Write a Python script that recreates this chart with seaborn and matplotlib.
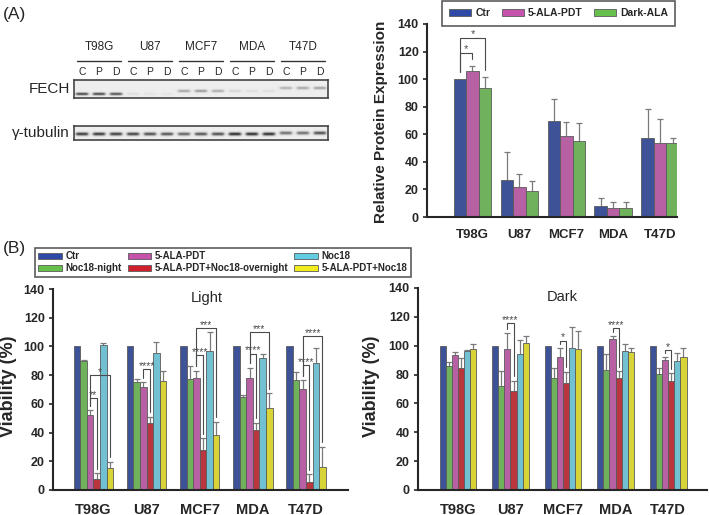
import numpy as np
import pandas as pd
import seaborn as sns
import matplotlib.pyplot as plt
from matplotlib.patches import Patch

W, H = 709, 515

cell_lines = ['T98G', 'U87', 'MCF7', 'MDA', 'T47D']

# (A) FECH western blot quantification
a_groups = ['Ctr', '5-ALA-PDT', 'Dark-ALA']
a_colors = ['#2f4aa6', '#c552ab', '#68c04c']
a_ctr = [100, 27, 70, 8.2, 57.5]
a_ctr_sd = [0, 20, 15.8, 5.3, 21]
a_pdt = [106, 22, 58.7, 6.3, 53.4]
a_pdt_sd = [3.6, 9.2, 10.2, 4.7, 17.4]
a_dark = [93.3, 19, 55.3, 6.3, 53.9]
a_dark_sd = [8, 7.3, 13.1, 4.7, 3.1]
# (cell line, group i, group j, bracket top, label)
a_sig = [(0, 0, 1, 119, '*'), (0, 0, 2, 130, '*')]

# blot band darkness per lane (C, P, D for each cell line)
fech_dark = [0.8, 0.8, 0.75, 0.07, 0.05, 0.05, 0.35, 0.4, 0.32, 0.12, 0.07, 0.07, 0.3, 0.35, 0.38]
fech_band_y = [94, 94, 91, 91, 88]
tub_dark = [0.85, 0.85, 0.82, 0.8, 0.75, 0.72, 0.65, 0.72, 0.75, 0.92, 0.9, 0.9, 0.6, 0.6, 0.75]
tub_band_y = [134, 134, 134, 134, 133]
lanes = ['C', 'P', 'D']

# (B) viability
b_groups = ['Ctr', 'Noc18-night', '5-ALA-PDT', '5-ALA-PDT+Noc18-overnight', 'Noc18', '5-ALA-PDT+Noc18']
b_colors = ['#2f4aa6', '#68c04c', '#c552ab', '#d0202c', '#62cce2', '#f3ec1c']

light_ctr = [100, 100, 100, 100, 100]
light_ctr_sd = [0, 0, 0, 0, 0]
light_night = [90, 75.4, 77.3, 64.5, 76.6]
light_night_sd = [0.5, 1.9, 9.3, 1.6, 5.4]
light_pdt = [52.2, 71.5, 78.2, 77.8, 70.1]
light_pdt_sd = [3.5, 3.5, 4.9, 7.4, 6.5]
light_over = [7.4, 46.4, 27.9, 41.5, 5.3]
light_over_sd = [4.2, 4.6, 8.1, 5.5, 5.8]
light_noc = [101, 95.2, 97, 92.1, 88.2]
light_noc_sd = [1.6, 7.6, 12.8, 2.3, 10.5]
light_combo = [15.1, 75.9, 38.3, 57.3, 15.8]
light_combo_sd = [4.6, 7.2, 9.3, 10, 14.4]
light_sig = [(0, 2, 3, 64, '**'), (0, 2, 5, 80, '*'), (1, 2, 3, 84, '****'),
             (2, 2, 3, 94, '****'), (2, 2, 5, 112.5, '***'),
             (3, 2, 3, 95, '****'), (3, 2, 5, 110, '***'),
             (4, 2, 3, 87, '****'), (4, 2, 5, 107, '****')]

dark_ctr = [100, 100, 100, 100, 100]
dark_ctr_sd = [0, 0, 0, 0, 0]
dark_night = [86.2, 72.3, 77.4, 83.2, 80.4]
dark_night_sd = [2.3, 10.2, 7.4, 11, 3.9]
dark_pdt = [93.5, 97.7, 92, 104.4, 90.1]
dark_pdt_sd = [2.4, 10.9, 6.2, 2.3, 1.9]
dark_over = [84.8, 68.6, 73.9, 77.8, 75.8]
dark_over_sd = [6.9, 7.2, 8.1, 4.7, 5.1]
dark_noc = [96.6, 94.3, 98.2, 96.3, 89.6]
dark_noc_sd = [0.5, 9.7, 15, 4.7, 5.5]
dark_combo = [97.7, 101.7, 97.7, 95.4, 92.4]
dark_combo_sd = [3.5, 5, 12.5, 2.8, 6.2]
dark_sig = [(1, 2, 3, 115.5, '****'), (2, 2, 3, 103.5, '*'),
            (3, 2, 3, 112, '****'), (4, 2, 3, 97, '*')]

sns.set_style('ticks')
plt.rcParams['font.family'] = ['Liberation Sans', 'DejaVu Sans']

EDGE = '#5a5a5a'
ERR = '#7a7a7a'
SIGC = '#4a4a4a'

fig = plt.figure(figsize=(W / 100, H / 100), dpi=100)


def px_axes(x0, y0, x1, y1):
    return fig.add_axes([x0 / W, 1 - y1 / H, (x1 - x0) / W, (y1 - y0) / H])


def grouped_bars(ax, groups, colors, means, sds, width):
    df = pd.DataFrame({
        'line': np.tile(cell_lines, len(groups)),
        'group': np.repeat(groups, len(cell_lines)),
        'value': np.concatenate(means),
    })
    sns.barplot(data=df, x='line', y='value', hue='group', order=cell_lines,
                hue_order=groups, palette=colors, width=width, errorbar=None,
                edgecolor=EDGE, linewidth=0.6, legend=False, ax=ax, zorder=2)
    centers, tops = [], []
    for cont, sd in zip(ax.containers, sds):
        x = np.array([p.get_x() + p.get_width() / 2 for p in cont])
        h = np.array([p.get_height() for p in cont])
        sd = np.asarray(sd, dtype=float)
        m = sd > 0
        if m.any():
            _, caps, _ = ax.errorbar(x[m], h[m], yerr=[np.zeros(m.sum()), sd[m]],
                                     fmt='none', ecolor=ERR, elinewidth=0.9,
                                     capsize=2.5, capthick=0.9, zorder=1)
            caps[0].set_visible(False)
        centers.append(x)
        tops.append(h + sd)
    return centers, tops


def brackets(ax, centers, tops, sig, gap, fs):
    for cat, i, j, top, label in sig:
        xi, xj = centers[i][cat], centers[j][cat]
        yi, yj = tops[i][cat] + gap, tops[j][cat] + gap
        ax.plot([xi, xi, xj, xj], [yi, top, top, yj], color=SIGC, lw=0.8, zorder=3)
        ax.text((xi + xj) / 2, top + 0.3, label, ha='center', va='baseline',
                fontsize=fs, color=SIGC)


def style(ax, xlim, xfs, ypad):
    ax.set_xlim(*xlim)
    ax.set_ylim(0, 140)
    ax.set_yticks(range(0, 141, 20))
    sns.despine(ax=ax)
    for s in ['left', 'bottom']:
        ax.spines[s].set_linewidth(1.5)
    ax.tick_params(axis='y', length=3, width=1.2, pad=ypad, labelsize=9)
    ax.tick_params(axis='x', length=0, pad=9, labelsize=xfs)
    for t in ax.get_xticklabels() + ax.get_yticklabels():
        t.set_fontweight('bold')
    ax.set_xlabel('')
    ax.set_ylabel('')


# ---------------- (A) blots ----------------
lane_x = 82 + 17 * np.arange(15)


def blot(ax, y0, y1, dark, band_y, sigma):
    xs = np.linspace(74, 328, 1016)
    ys = np.linspace(y0, y1, int((y1 - y0) * 4))
    X, Y = np.meshgrid(xs, ys)
    img = np.zeros_like(X)
    for k, d in enumerate(dark):
        horiz = 1 / (1 + np.exp((np.abs(X - lane_x[k]) - 6) / 0.7))
        vert = np.exp(-((Y - band_y[k // 3]) / sigma) ** 2)
        img += d * horiz * vert
    ax.imshow(0.93 - 0.85 * np.clip(img, 0, 1), cmap='gray', vmin=0, vmax=1,
              extent=[74, 328, y1, y0], aspect='auto', interpolation='bilinear')
    ax.set_xlim(74, 328)
    ax.set_ylim(y1, y0)
    ax.set_xticks([])
    ax.set_yticks([])
    for s in ax.spines.values():
        s.set_linewidth(1.2)
        s.set_color('#444444')


ax_fech = px_axes(74, 80, 328, 98)
blot(ax_fech, 80, 98, fech_dark, fech_band_y, 1.3)
ax_tub = px_axes(74, 126, 328, 140)
blot(ax_tub, 126, 140, tub_dark, tub_band_y, 1.6)

# ---------------- (A) bar chart ----------------
ax_a = px_axes(427, 24, 677, 217)
ca, ta = grouped_bars(ax_a, a_groups, a_colors, [a_ctr, a_pdt, a_dark],
                      [a_ctr_sd, a_pdt_sd, a_dark_sd], 0.8)
brackets(ax_a, ca, ta, a_sig, 5, 8)
style(ax_a, (-0.97, 4.36), 9.5, 3)

# ---------------- (B) viability ----------------
ax_l = px_axes(53, 289, 348, 490)
cl, tl = grouped_bars(ax_l, b_groups, b_colors,
                      [light_ctr, light_night, light_pdt, light_over, light_noc, light_combo],
                      [light_ctr_sd, light_night_sd, light_pdt_sd, light_over_sd,
                       light_noc_sd, light_combo_sd], 0.74)
brackets(ax_l, cl, tl, light_sig, 3, 7.5)
style(ax_l, (-0.76, 4.79), 10.5, 3)
ax_l.text(0.52, 0.955, 'Light', transform=ax_l.transAxes, ha='center', va='center', fontsize=10.5)

ax_r = px_axes(418, 288, 707, 490)
cr, tr = grouped_bars(ax_r, b_groups, b_colors,
                      [dark_ctr, dark_night, dark_pdt, dark_over, dark_noc, dark_combo],
                      [dark_ctr_sd, dark_night_sd, dark_pdt_sd, dark_over_sd,
                       dark_noc_sd, dark_combo_sd], 0.7)
brackets(ax_r, cr, tr, dark_sig, 3, 7.5)
style(ax_r, (-0.76, 4.74), 10.5, 3)
ax_r.text(0.5, 0.955, 'Dark', transform=ax_r.transAxes, ha='center', va='center', fontsize=10.5)

# ---------------- overlay texts ----------------
ov = fig.add_axes([0, 0, 1, 1])
ov.set_xlim(0, W)
ov.set_ylim(H, 0)
ov.axis('off')

ov.text(3, 15, '(A)', fontsize=12.5, va='center')
ov.text(3, 248, '(B)', fontsize=12.5, va='center')
for g, name in enumerate(cell_lines):
    c = lane_x[3 * g + 1]
    ov.text(c, 47, name, ha='center', va='center', fontsize=8.5)
    ov.plot([c - 22, c + 22], [61, 61], color='#333333', lw=1)
    for k, l in enumerate(lanes):
        ov.text(lane_x[3 * g + k], 72, l, ha='center', va='center', fontsize=7.5)
ov.text(70, 89, 'FECH', ha='right', va='center', fontsize=11)
ov.text(70, 133, 'γ-tubulin', ha='right', va='center', fontsize=11)

ov.text(381, 122, 'Relative Protein Expression', rotation=90, ha='center', va='center',
        fontsize=11, fontweight='bold')
ov.text(9, 386, 'Viability (%)', rotation=90, ha='center', va='center',
        fontsize=13, fontweight='bold')
ov.text(372, 386, 'Viability (%)', rotation=90, ha='center', va='center',
        fontsize=13, fontweight='bold')

# ---------------- legends ----------------
a_handles = [Patch(facecolor=c, edgecolor=EDGE, linewidth=0.6) for c in a_colors]
leg_a = fig.legend(a_handles, a_groups, ncol=3, loc='upper left',
                   bbox_to_anchor=(442 / W, 1 - 1 / H), borderaxespad=0,
                   frameon=True, fancybox=False, edgecolor='#333333',
                   prop={'weight': 'bold', 'size': 7.5}, handlelength=2.1,
                   handleheight=0.6, handletextpad=0.4, columnspacing=1.1,
                   borderpad=0.7)
leg_a.get_frame().set_linewidth(1.2)

b_handles = [Patch(facecolor=c, edgecolor=EDGE, linewidth=0.6) for c in b_colors]
leg_b = fig.legend(b_handles, b_groups, ncol=3, loc='upper left',
                   bbox_to_anchor=(35 / W, 1 - 248 / H), borderaxespad=0,
                   frameon=True, fancybox=False, edgecolor='#333333',
                   prop={'weight': 'bold', 'size': 7}, handlelength=2.4,
                   handleheight=0.6, handletextpad=0.4, columnspacing=0.6,
                   labelspacing=0.2, borderpad=0.35)
leg_b.get_frame().set_linewidth(1.2)

fig.savefig('out.png', dpi=100)
